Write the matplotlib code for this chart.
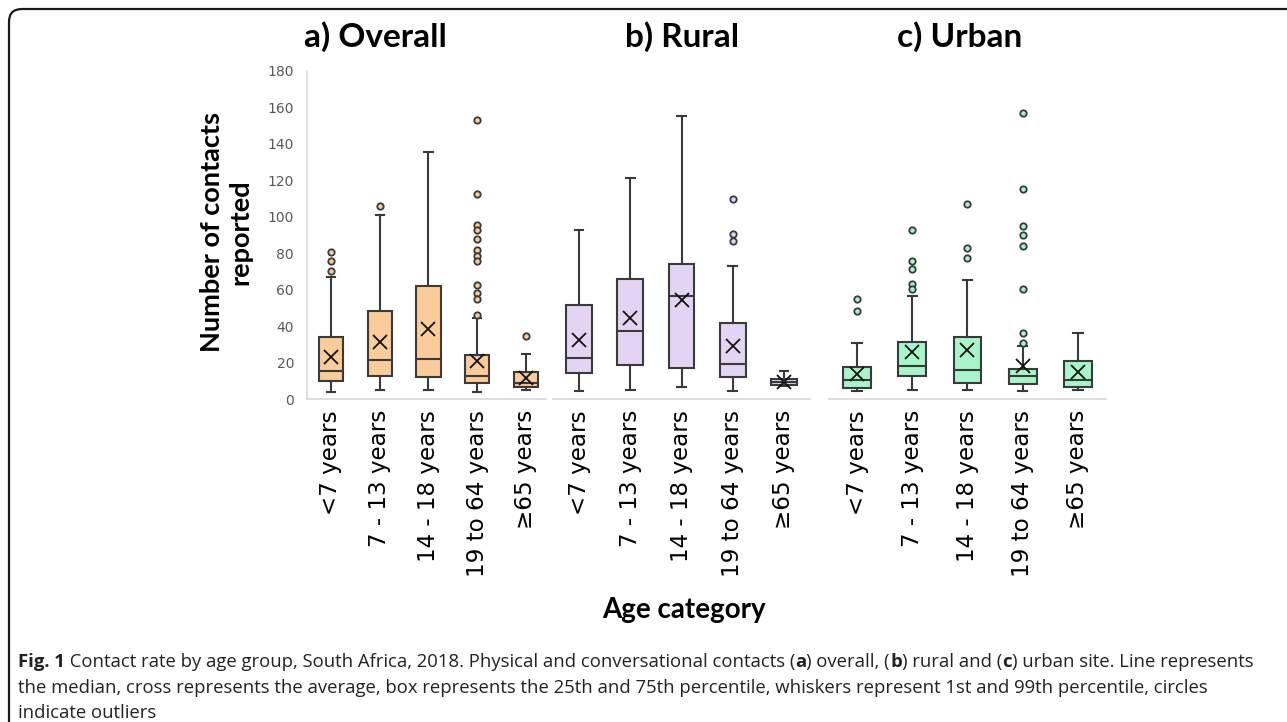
import matplotlib
matplotlib.use("Agg")
import matplotlib.pyplot as plt
from matplotlib.patches import FancyBboxPatch

W, H = 1287, 722

age_groups = ["<7 years", "7 - 13 years", "14 - 18 years", "19 to 64 years", "≥65 years"]
panel_titles = ["a) Overall", "b) Rural", "c) Urban"]
panel_colors = ["#FACB9B", "#E3D4F3", "#A8F5C9"]

# per panel: lower whisker, q1, median, q3, upper whisker, mean
overall_low = [3.8, 4.8, 4.8, 3.8, 4.8]
overall_q1 = [9.9, 12.6, 12.1, 8.8, 6.6]
overall_med = [15.2, 21.4, 22.1, 12.4, 8.8]
overall_q3 = [33.8, 48.2, 62.1, 23.9, 14.8]
overall_high = [66.7, 100.9, 135.8, 44.4, 24.7]
overall_mean = [22.8, 31.2, 38.2, 20.6, 11.5]
overall_out = [
    [80.4, 75.7, 70.5],
    [105.8],
    [],
    [153.1, 112.6, 95.6, 92.8, 87.7, 81.9, 78.6, 75.5, 62.7, 58.1, 54.8, 46.1],
    [34.5],
]

rural_low = [4.4, 5.1, 6.6, 4.4, 6.9]
rural_q1 = [14.3, 18.5, 17.0, 11.9, 7.5]
rural_med = [22.5, 37.5, 56.5, 19.4, 9.3]
rural_q3 = [51.4, 66.0, 74.0, 41.5, 11.0]
rural_high = [92.7, 121.2, 155.5, 72.9, 15.5]
rural_mean = [32.5, 44.4, 54.1, 29.2, 9.3]
rural_out = [[], [], [], [109.8, 90.6, 86.8], []]

urban_low = [4.4, 5.1, 5.1, 4.4, 5.1]
urban_q1 = [6.0, 12.4, 8.8, 8.4, 6.6]
urban_med = [10.2, 18.1, 16.1, 12.8, 10.2]
urban_q3 = [17.5, 31.4, 33.8, 16.6, 21.0]
urban_high = [30.5, 56.3, 65.4, 29.2, 36.0]
urban_mean = [13.7, 25.6, 27.0, 18.3, 14.8]
urban_out = [
    [55.0, 48.2],
    [92.7, 75.5, 71.3, 63.2, 60.5],
    [107.1, 82.6, 77.5],
    [156.8, 115.1, 95.0, 89.9, 83.7, 60.5, 36.2, 30.7],
    [],
]

panels = [
    (overall_low, overall_q1, overall_med, overall_q3, overall_high, overall_mean, overall_out),
    (rural_low, rural_q1, rural_med, rural_q3, rural_high, rural_mean, rural_out),
    (urban_low, urban_q1, urban_med, urban_q3, urban_high, urban_mean, urban_out),
]

# axes extents in pixels (left, right)
axes_px = [(306.6, 545.5), (553.4, 809.6), (829.4, 1105.6)]
xlims = [(0.5, 5.4), (0.5, 5.5), (0.5, 5.5)]
top_px, bottom_px = 71, 399

edge = "#3A3A3A"
fig = plt.figure(figsize=(W / 100, H / 100), dpi=100)

for i, (low, q1, med, q3, high, mean, out) in enumerate(panels):
    l, r = axes_px[i]
    ax = fig.add_axes([l / W, 1 - bottom_px / H, (r - l) / W, (bottom_px - top_px) / H])
    stats = []
    for k in range(5):
        stats.append(dict(whislo=low[k], q1=q1[k], med=med[k], q3=q3[k],
                          whishi=high[k], mean=mean[k], fliers=out[k]))
    col = panel_colors[i]
    ax.bxp(stats, positions=range(1, 6), widths=0.5, capwidths=0.17,
           patch_artist=True, showmeans=True,
           boxprops=dict(facecolor=col, edgecolor=edge, linewidth=1.5),
           medianprops=dict(color=edge, linewidth=1.5),
           whiskerprops=dict(color=edge, linewidth=1.5),
           capprops=dict(color=edge, linewidth=1.5),
           meanprops=dict(marker="x", markersize=10, markeredgecolor="#111111",
                          markeredgewidth=1.3),
           flierprops=dict(marker="o", markersize=4.6, markerfacecolor=col,
                           markeredgecolor=edge, markeredgewidth=1.3))
    ax.set_xlim(*xlims[i])
    ax.set_ylim(0, 180)
    for s in ["top", "right", "left"]:
        ax.spines[s].set_visible(False)
    ax.spines["bottom"].set_color("#D9D9D9")
    ax.spines["bottom"].set_linewidth(1.2)
    ax.set_xticks(range(1, 6))
    ax.set_xticklabels(age_groups, rotation=90, fontsize=16.6, family="DejaVu Sans")
    ax.tick_params(axis="x", length=0, pad=8)
    if i == 0:
        ax.spines["left"].set_visible(True)
        ax.spines["left"].set_color("#D9D9D9")
        ax.spines["left"].set_linewidth(1.2)
        ax.set_yticks(range(0, 181, 20))
        ax.tick_params(axis="y", length=0, pad=9, labelsize=10, labelcolor="#595959")
    else:
        ax.set_yticks([])
    ax.patch.set_visible(False)

title_x = [375, 682, 960]
for t, x in zip(panel_titles, title_x):
    fig.text(x / W, 1 - 37 / H, t, ha="center", va="center", fontsize=24,
             fontweight="bold", family="Lato")

fig.text(226 / W, 1 - 232 / H, "Number of contacts\nreported", rotation=90,
         ha="center", va="center", fontsize=19.5, fontweight="bold", family="Lato",
         linespacing=1.2, multialignment="center")
fig.text(684 / W, 1 - 610 / H, "Age category", ha="center", va="center",
         fontsize=20, fontweight="bold", family="Lato")

# caption, drawn as runs so that bold pieces line up
caption_lines = [
    [("Fig. 1", "bold"), (" Contact rate by age group, South Africa, 2018. Physical and conversational contacts (", "normal"),
     ("a", "bold"), (") overall, (", "normal"), ("b", "bold"), (") rural and (", "normal"), ("c", "bold"),
     (") urban site. Line represents", "normal")],
    [("the median, cross represents the average, box represents the 25th and 75th percentile, whiskers represent 1st and 99th percentile, circles", "normal")],
    [("indicate outliers", "normal")],
]
caption_y = [662, 688, 713]
fig.canvas.draw()
renderer = fig.canvas.get_renderer()
for runs, y in zip(caption_lines, caption_y):
    x = 18
    for txt, wt in runs:
        t = fig.text(x / W, 1 - y / H, txt, ha="left", va="center", fontsize=13.3,
                     fontweight=wt, family="Open Sans", color="#222222")
        bb = t.get_window_extent(renderer=renderer)
        x += bb.width

border = FancyBboxPatch((0.09, -0.3), 13.5, 7.13 + 0.3,
                        boxstyle="round,pad=0,rounding_size=0.13",
                        transform=fig.dpi_scale_trans, fill=False,
                        edgecolor="#1A1A1A", linewidth=1.6)
fig.patches.append(border)

fig.savefig("out.png", dpi=100)
